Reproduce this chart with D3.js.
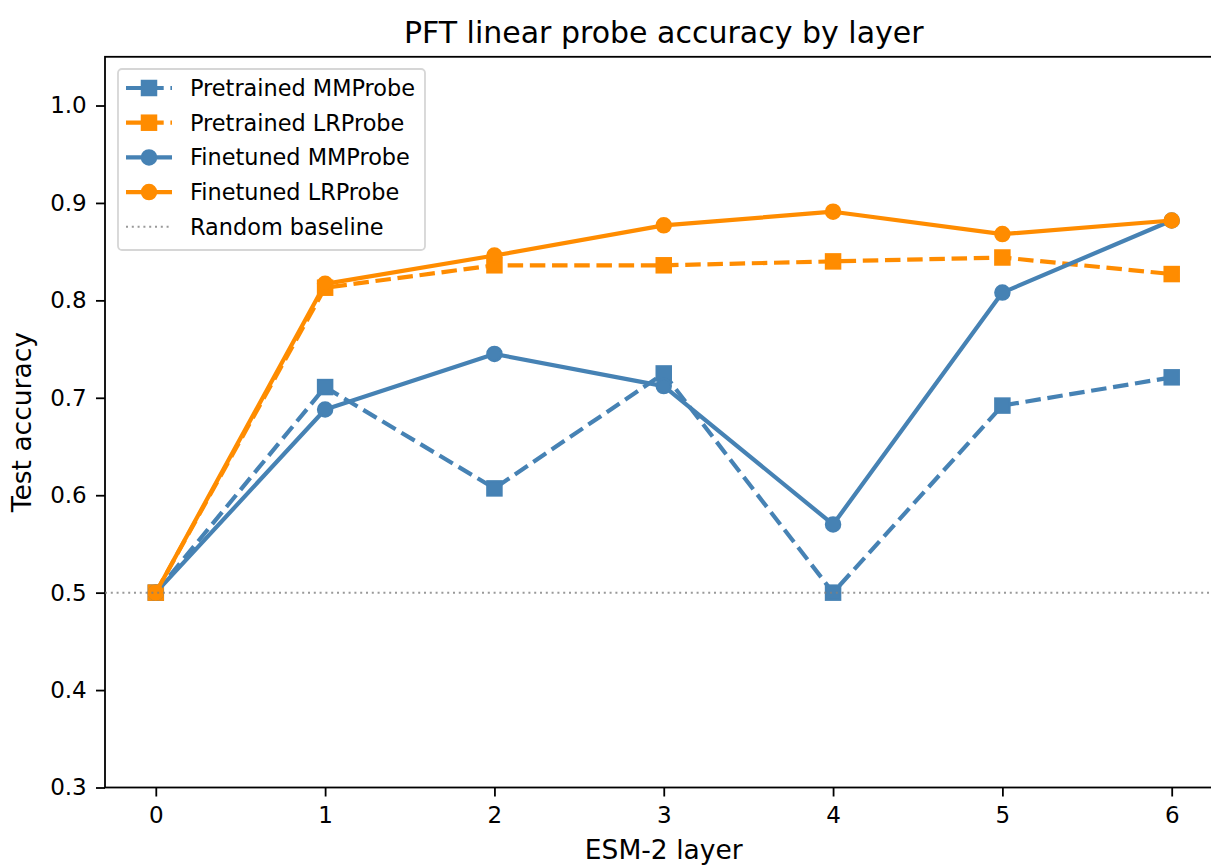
<!DOCTYPE html>
<html>
<head>
<meta charset="utf-8">
<script src="https://cdn.jsdelivr.net/npm/d3@7"></script>
<style>
  body { margin: 0; background: #fff; }
  svg { display: block; font-family: "DejaVu Sans", sans-serif; }
</style>
</head>
<body>
<div id="chart"></div>
<script>
// values
var layers = [0, 1, 2, 3, 4, 5, 6];
var pretrainedMM = [0.500, 0.711, 0.607, 0.725, 0.500, 0.692, 0.721];
var pretrainedLR = [0.500, 0.813, 0.836, 0.836, 0.840, 0.844, 0.827];
var finetunedMM = [0.500, 0.688, 0.745, 0.712, 0.570, 0.808, 0.882];
var finetunedLR = [0.500, 0.817, 0.846, 0.877, 0.891, 0.868, 0.882];
var randomBaseline = 0.5;
var yTicks = [0.3, 0.4, 0.5, 0.6, 0.7, 0.8, 0.9, 1.0];

var blue = "#4682b4";
var orange = "#ff8c00";

var series = [
	{name: "Pretrained MMProbe", values: pretrainedMM, color: blue, dashed: true, marker: "square"},
	{name: "Pretrained LRProbe", values: pretrainedLR, color: orange, dashed: true, marker: "square"},
	{name: "Finetuned MMProbe", values: finetunedMM, color: blue, dashed: false, marker: "circle"},
	{name: "Finetuned LRProbe", values: finetunedLR, color: orange, dashed: false, marker: "circle"}
];

var width = 1211;
var height = 865;
var plotLeft = 105, plotRight = 1222.5, plotTop = 56.8, plotBottom = 787.5;

var svg = d3.select("#chart")
	.append("svg")
	.attr("width", width)
	.attr("height", height);

var xScale = d3.scaleLinear().domain([-0.3, 6.3]).range([plotLeft, plotRight]);
var yScale = d3.scaleLinear().domain([0.3, 1.05]).range([plotBottom, plotTop]);

var lineW = 4.2;
var markSize = 14.5;

//axes
var xAxis = d3.axisBottom(xScale).tickValues(layers).tickFormat(d3.format("d")).tickSizeOuter(0).tickSizeInner(9).tickPadding(10.5);
var yAxis = d3.axisLeft(yScale).tickValues(yTicks).tickFormat(d3.format(".1f")).tickSizeOuter(0).tickSizeInner(9).tickPadding(9.3);

var gx = svg.append("g")
	.attr("transform", "translate(0," + plotBottom + ")")
	.call(xAxis);
var gy = svg.append("g")
	.attr("transform", "translate(" + plotLeft + ",0)")
	.call(yAxis);

[gx, gy].forEach(function(g){
	g.attr("font-size", null).attr("font-family", null);
	g.select(".domain").remove();
	g.selectAll(".tick line").attr("stroke", "#000").attr("stroke-width", 1.8);
	g.selectAll(".tick text").attr("fill", "#000").style("font-size", "23px");
});

//spines
svg.append("rect")
	.attr("x", plotLeft)
	.attr("y", plotTop)
	.attr("width", plotRight - plotLeft)
	.attr("height", plotBottom - plotTop)
	.attr("fill", "none")
	.attr("stroke", "#000")
	.attr("stroke-width", 1.8);

var plot = svg.append("g");

var line = d3.line()
	.x(function(d, i){ return xScale(layers[i]); })
	.y(function(d){ return yScale(d); });

function drawMarker(g, type, cx, cy, color)
{
	if(type == "square")
	{
		g.append("rect")
			.attr("x", cx - markSize / 2)
			.attr("y", cy - markSize / 2)
			.attr("width", markSize)
			.attr("height", markSize)
			.attr("fill", color)
			.attr("stroke", color)
			.attr("stroke-width", 2);
	}
	else
	{
		g.append("circle")
			.attr("cx", cx)
			.attr("cy", cy)
			.attr("r", markSize / 2)
			.attr("fill", color)
			.attr("stroke", color)
			.attr("stroke-width", 2);
	}
}

series.forEach(function(s){
	var g = plot.append("g");
	g.append("path")
		.datum(s.values)
		.attr("d", line)
		.attr("fill", "none")
		.attr("stroke", s.color)
		.attr("stroke-width", lineW)
		.attr("stroke-dasharray", s.dashed ? "15.5,6.7" : null)
		.attr("stroke-linejoin", "round");
	s.values.forEach(function(v, i){
		drawMarker(g, s.marker, xScale(layers[i]), yScale(v), s.color);
	});
});

//random baseline
plot.append("line")
	.attr("x1", plotLeft)
	.attr("x2", plotRight)
	.attr("y1", yScale(randomBaseline))
	.attr("y2", yScale(randomBaseline))
	.attr("stroke", "#808080")
	.attr("stroke-opacity", 0.8)
	.attr("stroke-width", 2)
	.attr("stroke-dasharray", "2,3.8");

//title and axis labels
svg.append("text")
	.attr("x", (plotLeft + plotRight) / 2)
	.attr("y", 43)
	.attr("text-anchor", "middle")
	.style("font-size", "30px")
	.text("PFT linear probe accuracy by layer");

svg.append("text")
	.attr("x", (plotLeft + plotRight) / 2)
	.attr("y", 859)
	.attr("text-anchor", "middle")
	.style("font-size", "26.5px")
	.text("ESM-2 layer");

svg.append("text")
	.attr("transform", "translate(31," + ((plotTop + plotBottom) / 2) + ") rotate(-90)")
	.attr("text-anchor", "middle")
	.style("font-size", "26.5px")
	.text("Test accuracy");

//legend
var legend = svg.append("g");
legend.append("rect")
	.attr("x", 118)
	.attr("y", 69)
	.attr("width", 307)
	.attr("height", 181)
	.attr("rx", 4)
	.attr("fill", "#fff")
	.attr("fill-opacity", 0.8)
	.attr("stroke", "#d6d6d6")
	.attr("stroke-width", 1.8);

var legendItems = series.concat([{name: "Random baseline", baseline: true}]);
legendItems.forEach(function(s, i){
	var y = 88 + i * 34.7;
	var g = legend.append("g");
	if(s.baseline)
	{
		g.append("line")
			.attr("x1", 126).attr("x2", 172)
			.attr("y1", y).attr("y2", y)
			.attr("stroke", "#808080")
			.attr("stroke-opacity", 0.8)
			.attr("stroke-width", 2)
			.attr("stroke-dasharray", "2,3.8");
	}
	else
	{
		g.append("line")
			.attr("x1", 126).attr("x2", 172)
			.attr("y1", y).attr("y2", y)
			.attr("stroke", s.color)
			.attr("stroke-width", lineW)
			.attr("stroke-dasharray", s.dashed ? "15.5,6.7" : null);
		drawMarker(g, s.marker, 149, y, s.color);
	}
	g.append("text")
		.attr("x", 190)
		.attr("y", y)
		.attr("dy", "0.36em")
		.style("font-size", "22.4px")
		.text(s.name);
});
</script>
</body>
</html>
